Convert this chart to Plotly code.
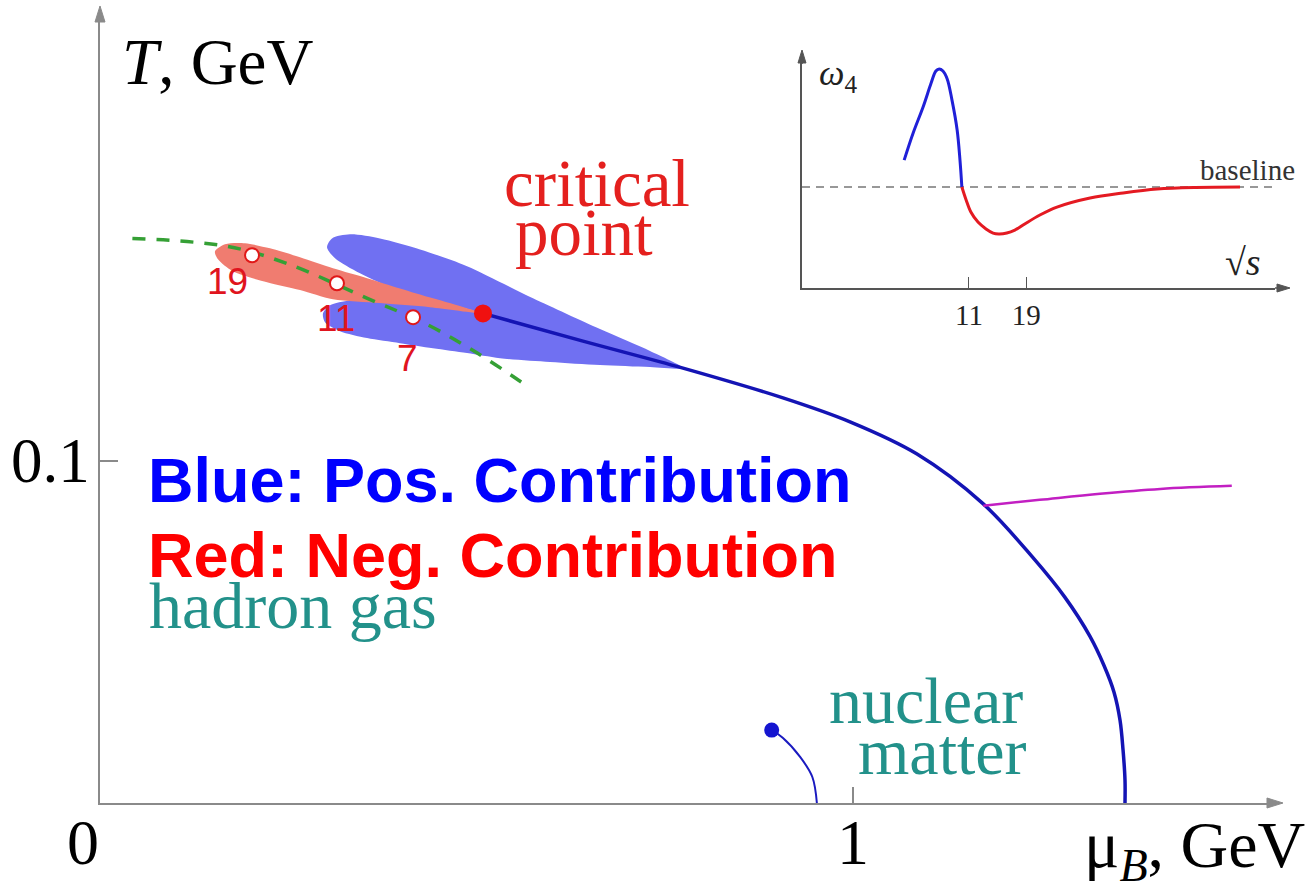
import plotly.graph_objects as go

# ---------------- data (main diagram: mu_B in GeV, T in GeV) ----------------
crossover_mu = [0.5086, 0.6414, 0.7742, 0.9070, 0.9960, 1.0850, 1.1726, 1.2390, 1.2815, 1.3147,
                1.3333, 1.3466, 1.3546, 1.3586, 1.3612, 1.3612]
crossover_T = [0.1431, 0.1350, 0.1271, 0.1184, 0.1114, 0.1020, 0.0875, 0.0717, 0.0601, 0.0487,
               0.0402, 0.0324, 0.0242, 0.0155, 0.0067, 0.0]

magenta_mu = [1.173, 1.248, 1.328, 1.408, 1.503]
magenta_T = [0.0869, 0.0886, 0.0904, 0.0918, 0.0927]

nuclear_mu = [0.892, 0.907, 0.930, 0.946, 0.952]
nuclear_T = [0.0213, 0.0190, 0.0134, 0.0076, 0.0]

freezeout_mu = [0.043, 0.169, 0.248, 0.355, 0.434, 0.501, 0.571]
freezeout_T = [0.1650, 0.1627, 0.1577, 0.1475, 0.1399, 0.1315, 0.1213]

blue_lobe_mu = [0.5086, 0.4648, 0.3984, 0.3453, 0.3121, 0.3015, 0.3081, 0.3320, 0.3718, 0.4250,
                0.4874, 0.5750, 0.6640, 0.7304, 0.7742, 0.7304, 0.6640, 0.5976, 0.5312, 0.4874,
                0.4422, 0.3984, 0.3546, 0.3187, 0.2988, 0.2961, 0.3054, 0.3320, 0.3718, 0.4250,
                0.4714, 0.5086]
blue_lobe_T = [0.1431, 0.1458, 0.1496, 0.1548, 0.1592, 0.1624, 0.1650, 0.1662, 0.1650, 0.1618,
               0.1569, 0.1475, 0.1385, 0.1321, 0.1271, 0.1274, 0.1280, 0.1289, 0.1300, 0.1315,
               0.1329, 0.1344, 0.1359, 0.1379, 0.1405, 0.1431, 0.1455, 0.1469, 0.1475, 0.1469,
               0.1452, 0.1431]

red_lobe_mu = [0.5086, 0.4874, 0.4422, 0.3984, 0.3546, 0.3094, 0.2656, 0.2258, 0.1926, 0.1660,
               0.1527, 0.1567, 0.1766, 0.2218, 0.2656, 0.3094, 0.3718, 0.4382, 0.5086]
red_lobe_T = [0.1431, 0.1446, 0.1475, 0.1504, 0.1534, 0.1563, 0.1595, 0.1621, 0.1636, 0.1633,
              0.1612, 0.1589, 0.1554, 0.1522, 0.1499, 0.1472, 0.1461, 0.1449, 0.1431]

energy_labels = ["19", "11", "7"]
energy_mu = [0.2019, 0.3147, 0.4157]
energy_T = [0.1601, 0.1519, 0.1420]

critical_mu = [0.5086]
critical_T = [0.1431]

nuclear_point_mu = [0.892]
nuclear_point_T = [0.0213]

x_tick_vals = [0, 1]
x_tick_text = ["0", "1"]
y_tick_vals = [0.1]
y_tick_text = ["0.1"]

# ---------------- data (inset: omega_4 vs sqrt(s), arbitrary units) ----------------
inset_blue_x = [21.6, 23.5, 25.6, 27.3, 28.3, 29.0, 29.8, 30.7, 31.7, 32.8, 33.4, 33.8]
inset_blue_y = [56.1, 68.0, 79.4, 89.9, 95.2, 96.1, 95.2, 91.7, 82.5, 69.3, 56.1, 44.3]
inset_red_x = [33.8, 34.7, 35.7, 37.2, 38.9, 40.4, 41.6, 43.3, 45.0, 47.1, 50.3, 53.9, 60.9,
               67.9, 75.1, 83.1, 92.6]
inset_red_y = [44.3, 38.6, 33.3, 28.9, 25.9, 24.1, 23.7, 24.1, 25.4, 28.1, 32.0, 35.5, 39.5,
               41.7, 43.4, 44.1, 44.3]
baseline_level = 44.3
inset_tick_vals = [35.3, 47.4]
inset_tick_text = ["11", "19"]

# ---------------- layout geometry ----------------
W, H = 1315, 891
ML, MR, MT, MB = 100, 40, 14, 88
PW, PH = W - ML - MR, H - MT - MB
X_RANGE = [0, 1.5604]
Y_RANGE = [0, 0.2306]


def P(px, py):
    """pixel -> paper coordinates (for text / decoration placement)"""
    return (px - ML) / PW, (H - MB - py) / PH


SERIF = "Liberation Serif, Times New Roman, serif"
SANS = "Liberation Sans, Arial, sans-serif"
TEAL = "#22918A"
RED = "#E4201E"
AX_COL = "#8a8a8a"
IN_COL = "#555555"

fig = go.Figure()

# lobes
fig.add_trace(go.Scatter(x=blue_lobe_mu, y=blue_lobe_T, mode="lines", fill="toself",
                         fillcolor="rgb(112,112,242)", line=dict(width=0, shape="spline", smoothing=0.8),
                         hoverinfo="skip", showlegend=False))
fig.add_trace(go.Scatter(x=red_lobe_mu, y=red_lobe_T, mode="lines", fill="toself",
                         fillcolor="rgb(240,124,112)", line=dict(width=0, shape="spline", smoothing=0.8),
                         hoverinfo="skip", showlegend=False))
# freeze-out line
fig.add_trace(go.Scatter(x=freezeout_mu, y=freezeout_T, mode="lines",
                         line=dict(color="#35A035", width=3.5, dash="13px,11px", shape="spline"),
                         showlegend=False))
# crossover / first-order line
fig.add_trace(go.Scatter(x=crossover_mu, y=crossover_T, mode="lines",
                         line=dict(color="#1414B4", width=3.5, shape="spline", smoothing=1.0),
                         showlegend=False))
fig.add_trace(go.Scatter(x=magenta_mu, y=magenta_T, mode="lines",
                         line=dict(color="#C21FC2", width=2.5, shape="spline"), showlegend=False))
fig.add_trace(go.Scatter(x=nuclear_mu, y=nuclear_T, mode="lines",
                         line=dict(color="#1A1AC0", width=2, shape="spline"), showlegend=False))
fig.add_trace(go.Scatter(x=nuclear_point_mu, y=nuclear_point_T, mode="markers",
                         marker=dict(color="#1515D0", size=15), showlegend=False))
# beam-energy points
fig.add_trace(go.Scatter(x=energy_mu, y=energy_T, mode="markers",
                         marker=dict(color="white", size=14, line=dict(color="#E01818", width=2)),
                         showlegend=False))
fig.add_trace(go.Scatter(x=critical_mu, y=critical_T, mode="markers",
                         marker=dict(color="#F01010", size=18), showlegend=False))

# inset
fig.add_trace(go.Scatter(x=[0, 100], y=[baseline_level, baseline_level], mode="lines",
                         xaxis="x2", yaxis="y2", cliponaxis=False,
                         line=dict(color="#777777", width=1.5, dash="8px,6px"), showlegend=False))
fig.add_trace(go.Scatter(x=inset_blue_x, y=inset_blue_y, mode="lines", xaxis="x2", yaxis="y2",
                         line=dict(color="#2020D8", width=3, shape="spline"), showlegend=False))
fig.add_trace(go.Scatter(x=inset_red_x, y=inset_red_y, mode="lines", xaxis="x2", yaxis="y2",
                         line=dict(color="#E41A22", width=3, shape="spline"), showlegend=False))

fig.update_layout(
    width=W, height=H,
    margin=dict(l=ML, r=MR, t=MT, b=MB, autoexpand=False),
    paper_bgcolor="white", plot_bgcolor="white",
    xaxis=dict(domain=[0, 1], range=X_RANGE, showgrid=False, zeroline=False, automargin=False,
               showline=True, linecolor=AX_COL, linewidth=2,
               ticks="inside", ticklen=16, tickwidth=1.5, tickcolor=AX_COL,
               tickvals=x_tick_vals, ticktext=x_tick_text, showticklabels=False),
    yaxis=dict(domain=[0, 1], range=Y_RANGE, showgrid=False, zeroline=False, automargin=False,
               showline=True, linecolor=AX_COL, linewidth=2,
               ticks="inside", ticklen=18, tickwidth=1.5, tickcolor=AX_COL,
               tickvals=y_tick_vals, ticktext=y_tick_text, showticklabels=False),
    xaxis2=dict(domain=[P(802, 0)[0], 1.0], range=[0, 100], anchor="y2", automargin=False,
                showgrid=False, zeroline=False, showline=True, linecolor=IN_COL, linewidth=1.5,
                ticks="inside", ticklen=11, tickwidth=1.2, tickcolor=IN_COL,
                tickvals=inset_tick_vals, ticktext=inset_tick_text, ticklabelstandoff=0,
                tickfont=dict(family=SERIF, size=29, color="#222222")),
    yaxis2=dict(domain=[P(0, 288)[1], P(0, 60)[1]], range=[0, 100], anchor="x2", automargin=False,
                showgrid=False, zeroline=False, showline=True, linecolor=IN_COL, linewidth=1.5,
                showticklabels=False, ticks=""),
)

# ---- axis arrowheads (decorations, paper coordinates) ----
shapes = []


def arrowhead(tip, direction, color, length=16, half=5):
    tx, ty = tip
    if direction == "up":
        pts = [(tx, ty), (tx - half, ty + length), (tx + half, ty + length)]
    else:  # right
        pts = [(tx, ty), (tx - length, ty - half), (tx - length, ty + half)]
    path = "M " + " L ".join(f"{P(x, y)[0]:.5f},{P(x, y)[1]:.5f}" for x, y in pts) + " Z"
    shapes.append(dict(type="path", xref="paper", yref="paper", path=path,
                       fillcolor=color, line=dict(color=color, width=1)))


def seg(p0, p1, color, width):
    x0, y0 = P(*p0)
    x1, y1 = P(*p1)
    shapes.append(dict(type="line", xref="paper", yref="paper", x0=x0, y0=y0, x1=x1, y1=y1,
                       line=dict(color=color, width=width)))


seg((100, 20), (100, 14), AX_COL, 2)
arrowhead((100, 6), "up", AX_COL)
seg((1270, 803), (1275, 803), AX_COL, 2)
arrowhead((1283, 803), "right", AX_COL)
seg((802, 60), (802, 64), IN_COL, 1.5)
arrowhead((802, 50), "up", IN_COL, length=13, half=4)
seg((1275, 288), (1282, 288), IN_COL, 1.5)
arrowhead((1290, 288), "right", IN_COL, length=13, half=4)

ann = []


def text(px, py, s, size, color, family=SERIF, xanchor="center"):
    x, y = P(px, py)
    ann.append(dict(x=x, y=y, xref="paper", yref="paper", text=s, showarrow=False,
                    xanchor=xanchor, yanchor="middle",
                    font=dict(family=family, size=size, color=color)))


def data_text(xv, yv, s, dx, dy, size, color, family=SERIF, xanchor="center"):
    ann.append(dict(x=xv, y=yv, xref="x", yref="y", text=s, showarrow=False,
                    xshift=dx, yshift=dy, xanchor=xanchor, yanchor="middle",
                    font=dict(family=family, size=size, color=color)))


# tick labels placed next to the ticks
data_text(x_tick_vals[0], 0, x_tick_text[0], -17, -39, 64, "black")
data_text(x_tick_vals[1], 0, x_tick_text[1], 0, -39, 64, "black")
data_text(0, y_tick_vals[0], y_tick_text[0], -8, 0, 63, "black", xanchor="right")

# axis titles
text(120, 62, "<i>T</i>, GeV", 65, "black", xanchor="left")
text(1082, 849, "μ<sub><i>B</i></sub>, GeV", 66, "black", xanchor="left")

# region labels
text(597, 183, "critical", 67, RED)
text(584, 232, "point", 67, RED)
text(147, 605, "hadron gas", 66, TEAL, xanchor="left")
text(926, 700, "nuclear", 66, TEAL)
text(943, 751, "matter", 66, TEAL)

# legend-like statements
text(146, 480, "<b>Blue: Pos. Contribution</b>", 63, "#0000FF", family=SANS, xanchor="left")
text(146, 555, "<b>Red: Neg. Contribution</b>", 63, "#FF0000", family=SANS, xanchor="left")

# beam energy labels
text(227, 281, energy_labels[0], 37, "#E0141E", family=SANS)
text(336, 318, energy_labels[1], 37, "#E0141E", family=SANS)
text(407, 359, energy_labels[2], 37, "#E0141E", family=SANS)

# inset labels
text(838, 75, "<i>ω</i><sub>4</sub>", 36, "#222222")
text(1297, 170, "baseline", 29, "#333333", xanchor="right")
text(1243, 262, "√<i>s</i>", 38, "#222222")

fig.update_layout(annotations=ann, shapes=shapes)
fig.write_html("out.html")
